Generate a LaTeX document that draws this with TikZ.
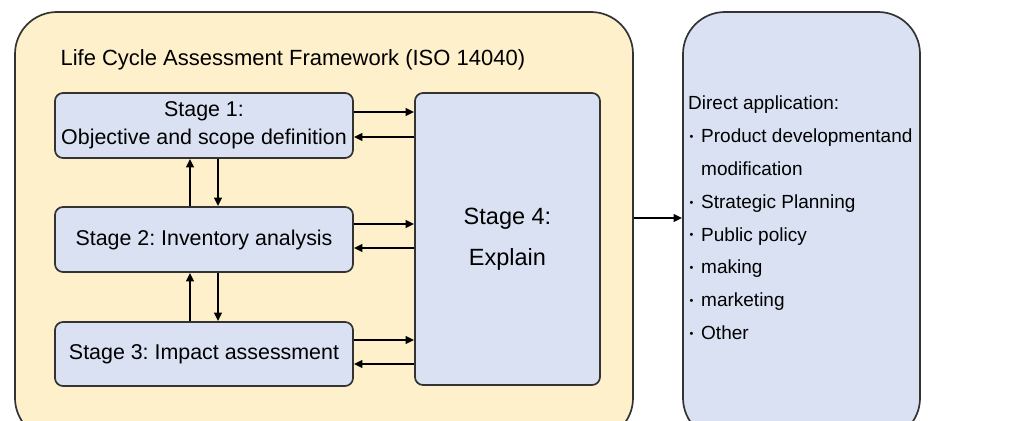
\documentclass[tikz,border=0pt]{standalone}
\usepackage{fontspec}
\setmainfont{Liberation Sans}
\usetikzlibrary{arrows.meta,calc}
\definecolor{frameyellow}{HTML}{FFF0CC}
\definecolor{stageblue}{HTML}{D9E1F2}
\definecolor{edgegray}{HTML}{333333}
\newcommand{\listdot}{\makebox[13pt][l]{\hspace{1.5pt}\raisebox{2.2pt}{\fontsize{11}{11}\selectfont •}}}
\tikzset{
  stagebox/.style={draw=edgegray, line width=1.7pt, fill=stageblue, rounded corners=8pt,
    inner sep=0pt, align=center, font=\fontsize{21.4}{28}\selectfont},
  bigbox/.style={draw=edgegray, line width=1.7pt, rounded corners=42pt, inner sep=0pt},
  arr/.style={draw=black, line width=2.6pt, -{Triangle[length=8.5pt,width=7.5pt]}},
}
\begin{document}
\frenchspacing
\begin{tikzpicture}[x=1pt,y=-1pt]
  \clip (0,0) rectangle (1016,420);
  \fill[white] (0,0) rectangle (1016,420);
  % framework container and application panel
  \node[bigbox, fill=frameyellow, minimum width=618pt, minimum height=428pt] (frame) at (324,226) {};
  \node[bigbox, fill=stageblue, minimum width=237pt, minimum height=428pt] (app) at (801.5,226) {};
  \node[anchor=base west, font=\fontsize{22}{26}\selectfont] (title) at (57,65)
    {Life Cycle Assessment Framework (ISO 14040)};
  % stages
  \node[stagebox, minimum width=298pt, minimum height=65pt] (s1) at (204,125.5)
    {Stage 1:\\Objective and scope definition};
  \node[stagebox, minimum width=298pt, minimum height=65pt] (s2) at (204,239.5)
    {Stage 2: Inventory analysis};
  \node[stagebox, minimum width=298pt, minimum height=64pt] (s3) at (204,354)
    {Stage 3: Impact assessment};
  \node[stagebox, minimum width=185pt, minimum height=292pt, font=\fontsize{23.5}{41}\selectfont] (s4) at (507.5,239)
    {Stage 4:\\Explain};
  % application list
  \node[anchor=north west, align=left, inner sep=0pt, font=\fontsize{19}{32.8}\selectfont] (apps) at (688,96)
    {Direct application:\\
     \listdot Product developmentand\\
     \hphantom{\listdot}modification\\
     \listdot Strategic Planning\\
     \listdot Public policy\\
     \listdot making\\
     \listdot marketing\\
     \listdot Other};
  % exchanges between stages and stage 4
  \draw[arr] (s1.east |- 0,112) -- (s4.west |- 0,112);
  \draw[arr] (s4.west |- 0,137) -- (s1.east |- 0,137);
  \draw[arr] (s2.east |- 0,224) -- (s4.west |- 0,224);
  \draw[arr] (s4.west |- 0,248) -- (s2.east |- 0,248);
  \draw[arr] (s3.east |- 0,340) -- (s4.west |- 0,340);
  \draw[arr] (s4.west |- 0,364) -- (s3.east |- 0,364);
  % vertical feedback between stages
  \draw[arr] (s2.north -| 190,0) -- (s1.south -| 190,0);
  \draw[arr] (s1.south -| 218,0) -- (s2.north -| 218,0);
  \draw[arr] (s3.north -| 190,0) -- (s2.south -| 190,0);
  \draw[arr] (s2.south -| 218,0) -- (s3.north -| 218,0);
  % output to applications
  \draw[arr] (frame.east |- 0,218) -- (app.west |- 0,218);
\end{tikzpicture}
\end{document}
